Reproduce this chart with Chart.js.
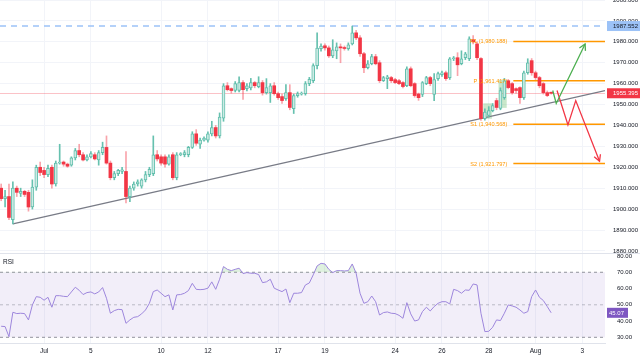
<!DOCTYPE html>
<html>
<head>
<meta charset="utf-8">
<script src="https://cdn.jsdelivr.net/npm/chart.js@4.4.0/dist/chart.umd.min.js"></script>
<style>
html, body { margin: 0; padding: 0; background: #fff; }
#wrap { position: relative; width: 640px; height: 358px; overflow: hidden; }
#pricebox { position: absolute; left: 0; top: 0; width: 640px; height: 253px; }
#sep { position: absolute; left: 0; top: 253px; width: 640px; height: 1px; background: #e0e3eb; }
#rsibox { position: absolute; left: 0; top: 254px; width: 640px; height: 104px; }
</style>
</head>
<body>
<div id="wrap">
  <div id="pricebox"><canvas id="priceChart"></canvas></div>
  <div id="sep"></div>
  <div id="rsibox"><canvas id="rsiChart"></canvas></div>
</div>
<script>
// 4h candles, index 0 = first bar on the left
var opens = [
  1910,1905,1906,1895,1910,1907.5,1908.5,1908,1901,1910.5,
  1920,1918.5,1916.5,1920,1912,1922,1922.5,1921.5,1921,1924.5,
  1928,1926,1923.5,1925,1926,1923.5,1927,1929.5,1922,1915,
  1917,1918,1918,1906,1910,1912,1911,1914,1916.5,1917,
  1926,1925,1925,1921.5,1926,1915,1926,1926,1926,1929.5,
  1936,1931,1933,1933,1936,1939,1935,1943.5,1959,1957.6,
  1956.7,1956.7,1960.5,1957.6,1958,1960.5,1958.6,1960.5,1955.7,1955.7,
  1959,1955.2,1953.8,1952.8,1955.7,1948,1954.3,1955,1955.2,1960,
  1961.4,1968.6,1976.7,1978.1,1977.1,1973.3,1975.7,1977.6,1977.2,1976.7,
  1979,1984.3,1981.9,1974.3,1967.6,1969.5,1972.9,1970,1961.4,1962.4,
  1962.9,1961.9,1961.4,1960.5,1959,1967.1,1960,1955,1954.8,1960,
  1962.9,1954.8,1962.4,1964.3,1965.2,1962.9,1971.9,1972.4,1969.5,1972.4,
  1971.9,1981,1979,1972,1943.3,1944.8,1947.1,1951.9,1948.1,1953.3,
  1961.4,1960,1957.6,1958.1,1953.3,1965.2,1971,1965.2,1962.9,1960,
  1955.7,1955.5
];
var highs = [
  1912,1909,1912,1913,1911,1910,1909,1909,1914,1921,
  1922.5,1920,1921,1921,1923,1931,1923,1922,1925,1929,
  1931,1927,1926,1927.5,1927,1928,1932,1935,1923,1918,
  1919,1920,1927.5,1911,1913,1914,1914.5,1918,1920,1935,
  1928,1926,1926,1926,1927,1927,1927,1928,1930,1937,
  1938,1934,1934.5,1937,1942,1940,1946,1960,1960.5,1958,
  1961,1963.3,1961.5,1960,1962.5,1961,1963.3,1961.5,1962.4,1960,
  1960.5,1956,1955,1959.5,1959.5,1955,1956,1956,1961,1963,
  1969.5,1984.3,1979,1979,1978,1981,1979.5,1979,1978,1979.5,
  1987.5,1985.5,1983,1975,1971,1974,1974,1971,1963.5,1964,
  1963.5,1962.5,1962,1961,1968,1968,1960.5,1955.5,1961,1963.5,
  1963.5,1964.8,1965.5,1966,1966,1972.5,1973,1974.8,1975.7,1975,
  1982.4,1983,1980,1972.5,1948,1949,1950.5,1953,1958,1962.5,
  1962,1960.5,1958,1958.5,1966,1971.9,1972,1966,1963.5,1960.5,
  1956.5,1956
];
var lows = [
  1904,1901,1895,1892.9,1906,1906,1906,1899,1900,1909,
  1916,1915,1915.5,1910,1911,1921.5,1920.5,1920,1920.5,1923.5,
  1925,1923,1923,1924.5,1923.5,1921,1926,1921.5,1914,1914,
  1916,1917,1903,1903.5,1909,1911,1910,1913,1915.5,1916,
  1923,1921,1920,1921,1914,1914,1925.5,1925,1925,1929,
  1930.5,1929,1932.5,1932,1935,1934,1934,1942,1956.5,1955.5,
  1956,1956,1952.4,1956.5,1957,1958,1958,1954.5,1955,1951,
  1954.5,1952.5,1950.5,1952,1947.5,1945.7,1953.5,1954.5,1954.5,1959,
  1960.5,1967,1975.5,1976,1972.5,1972.4,1971.9,1970,1976,1976,
  1978.5,1981,1973,1965.2,1967,1969,1969,1960.5,1961,1957.6,
  1960.5,1960,1959.5,1958,1958.5,1958.5,1953.5,1952,1953.8,1959.5,
  1959,1951.9,1961.5,1963.5,1961.5,1962,1971,1963.8,1969,1971.5,
  1971,1979,1971.5,1942.4,1942.5,1944,1946.5,1947.5,1947.5,1952.5,
  1957.5,1955,1955.5,1950.5,1952.5,1964.5,1964,1962,1958,1955,
  1953.8,1955
];
var closes = [
  1905,1906,1896,1910,1908,1908.5,1907,1901,1910.5,1920,
  1917.5,1916.5,1919.5,1912,1922,1922.5,1921.5,1920.5,1924.5,1928,
  1926,1923.5,1925,1926.5,1924,1927,1929.5,1922,1915,1917,
  1918.5,1918.8,1906,1910,1912,1913,1914,1916.5,1919,1926,
  1924,1922,1921.5,1925,1915,1926,1926.5,1927,1929.5,1936,
  1931.5,1933,1934,1936,1939,1935,1944,1959,1957.1,1956.7,
  1960,1960.5,1957.1,1959,1960.5,1959,1960.5,1955.7,1958.1,1959,
  1955.2,1953.3,1951.9,1955.7,1948.6,1954.3,1955.2,1955.5,1960,1962,
  1968.6,1977,1978,1977.1,1973.3,1976.2,1977.6,1977.1,1976.8,1978.6,
  1984.3,1981.9,1974.3,1967.6,1969.5,1972.9,1969.5,1961.4,1962.9,1963.3,
  1961.4,1960.5,1960,1958.6,1967.1,1959,1954.3,1953.3,1960.5,1962.9,
  1960,1961.9,1964.8,1965.2,1962.4,1971.9,1972.4,1969,1971.9,1974.3,
  1981.4,1980,1972.4,1943.3,1946.4,1947.1,1949.5,1948.6,1956.7,1961.4,
  1958.1,1955.7,1956.7,1953.3,1965.2,1970,1965.2,1962.9,1959,1955.7,
  1954.3,1955.395
];
var rsi = [
  36.8,36.6,30.4,45.4,44.6,44.8,44.6,40.7,49.9,55,
  54.6,52.8,54.6,48.5,55.6,55.6,55.2,55,57.9,60.8,
  58.9,56.3,57.5,57.9,56.7,57.9,60.6,54,44.8,46.4,
  47.2,47,38.6,40.7,42.3,42.7,44.4,46.8,50.9,58.1,
  59.1,57.1,55,56.1,46.8,56.1,56.3,57.1,58.7,63.2,
  59.5,59.3,59.5,60.2,64.1,59.5,65.7,73.5,71.8,71,
  71.8,72.5,69.2,69.8,69.4,69.4,68.6,63.6,64.1,65.7,
  60.2,59.1,58.1,59.7,51.3,57.1,57.1,57.5,62.2,63.4,
  68.4,73.9,75.5,75.1,71.8,69.8,71,71,70.8,71,
  75.1,69.4,57.1,50.9,51.9,55.4,51.9,43.7,45.2,45.6,
  44.8,44.6,43.5,41.7,51.3,44.4,40,40.7,45.8,48.5,
  46.2,48.9,50.9,51.9,51.9,50.5,59.5,58.7,57.1,59.1,
  58.9,62.8,62.2,44.8,33.5,33.7,36.2,40.7,40.3,44.8,
  49.9,49.3,48.5,46.8,44.8,45.8,55,59.1,54.6,52.6,
  48.9,45.07
];

// date ticks (bar index of first bar of the day)
var tickIdx = [11, 23, 41, 53, 71, 83, 101, 113, 125, 137, 149];
var tickText = ['Jul', '5', '10', '12', '17', '19', '24', '26', '28', 'Aug', '3'];
var priceTicks = [1880,1890,1900,1910,1920,1930,1940,1950,1960,1970,1980,1990,2000];
var rsiTicks = [30, 40, 50, 60, 70, 80];

// levels
var pivotNames = ['R1', 'P', 'S1', 'S2'];
var pivotValues = [1980.188, 1961.417, 1940.568, 1921.797];
var pivotStart = 131.3;
var lastPrice = 1955.395;
var topLevel = 1987.552;

// trend line and projected paths (bar index, price)
var trendX = [3, 154.8];
var trendY = [1892.9, 1956.7];
var upX = [141.4, 142.3, 149.7];
var upY = [1956.7, 1950.5, 1979];
var downX = [142.5, 145.3, 147.3, 153.4];
var downY = [1956.7, 1940.3, 1951.9, 1922.9];

// highlighted pattern boxes
var boxFrom = [123.6, 127.5];
var boxTo = [125.8, 129.6];
var boxLow = [1943.2, 1948.4];
var boxHigh = [1950.6, 1961.8];

var FONT = 'Liberation Sans, Arial, sans-serif';
var xMin = -0.3, xMax = 154.8;

function isUp(i) { return closes[i] >= opens[i]; }
function pts(xs, ys) { return xs.map(function (x, k) { return { x: x, y: ys[k] }; }); }
var idx = opens.map(function (_, i) { return i; });

function tag(chart, yPix, text, bg, fg, w) {
  var ctx = chart.ctx, a = chart.chartArea;
  ctx.save();
  ctx.fillStyle = bg;
  ctx.fillRect(a.right + 2, yPix - 5, w || (chart.width - a.right - 2), 10);
  ctx.fillStyle = fg;
  ctx.font = '6px ' + FONT;
  ctx.textAlign = 'left';
  ctx.textBaseline = 'middle';
  ctx.fillText(text, a.right + (w ? 4 : 8), yPix + 0.5);
  ctx.restore();
}

function arrowHead(ctx, xs, ys, sx, sy, color) {
  var n = xs.length;
  var x1 = sx.getPixelForValue(xs[n - 1]), y1 = sy.getPixelForValue(ys[n - 1]);
  var x0 = sx.getPixelForValue(xs[n - 2]), y0 = sy.getPixelForValue(ys[n - 2]);
  var ang = Math.atan2(y1 - y0, x1 - x0);
  ctx.save();
  ctx.strokeStyle = color;
  ctx.lineWidth = 1.3;
  ctx.beginPath();
  ctx.moveTo(x1 - 7 * Math.cos(ang - 0.5), y1 - 7 * Math.sin(ang - 0.5));
  ctx.lineTo(x1, y1);
  ctx.lineTo(x1 - 7 * Math.cos(ang + 0.5), y1 - 7 * Math.sin(ang + 0.5));
  ctx.stroke();
  ctx.restore();
}

var priceDecor = {
  id: 'priceDecor',
  beforeDatasetsDraw: function (chart) {
    var ctx = chart.ctx, a = chart.chartArea, x = chart.scales.x, y = chart.scales.y;
    ctx.save();
    // pattern boxes
    ctx.fillStyle = 'rgba(76,175,80,0.3)';
    boxFrom.forEach(function (b, k) {
      var x0 = x.getPixelForValue(b), x1 = x.getPixelForValue(boxTo[k]);
      var y0 = y.getPixelForValue(boxHigh[k]), y1 = y.getPixelForValue(boxLow[k]);
      ctx.fillRect(x0, y0, x1 - x0, y1 - y0);
    });
    // top dashed level
    var yt = y.getPixelForValue(topLevel);
    ctx.strokeStyle = '#9cc2f7';
    ctx.lineWidth = 1.5;
    ctx.setLineDash([6, 5]);
    ctx.beginPath(); ctx.moveTo(a.left, yt); ctx.lineTo(a.right, yt); ctx.stroke();
    ctx.setLineDash([]);
    // last price line
    var yl = Math.round(y.getPixelForValue(lastPrice)) + 0.5;
    ctx.strokeStyle = 'rgba(242,54,69,0.3)';
    ctx.lineWidth = 1;
    ctx.beginPath(); ctx.moveTo(a.left, yl); ctx.lineTo(a.right, yl); ctx.stroke();
    // pivot lines
    var xs = x.getPixelForValue(pivotStart);
    ctx.strokeStyle = '#ff9800';
    ctx.lineWidth = 1.5;
    pivotValues.forEach(function (v) {
      var yp = y.getPixelForValue(v);
      ctx.beginPath(); ctx.moveTo(xs, yp); ctx.lineTo(a.right, yp); ctx.stroke();
    });
    ctx.restore();
  },
  afterDatasetsDraw: function (chart) {
    var ctx = chart.ctx, x = chart.scales.x, y = chart.scales.y;
    ctx.save();
    ctx.fillStyle = '#ff9800';
    ctx.font = '5.6px ' + FONT;
    ctx.textAlign = 'right';
    ctx.textBaseline = 'middle';
    var xs = x.getPixelForValue(pivotStart) - 6;
    pivotValues.forEach(function (v, k) {
      var txt = pivotNames[k] + ' (' + v.toLocaleString('en-US', { minimumFractionDigits: 3 }) + ')';
      ctx.fillText(txt, xs, y.getPixelForValue(v) + 0.5);
    });
    ctx.restore();
    arrowHead(ctx, upX, upY, x, y, '#4caf50');
    arrowHead(ctx, downX, downY, x, y, '#f23645');
  },
  afterDraw: function (chart) {
    var y = chart.scales.y;
    tag(chart, y.getPixelForValue(topLevel), topLevel.toFixed(3), '#9cc2f7', '#131722');
    tag(chart, y.getPixelForValue(lastPrice), lastPrice.toFixed(3), '#f23645', '#ffffff');
  }
};

var rsiDecor = {
  id: 'rsiDecor',
  beforeDatasetsDraw: function (chart) {
    var ctx = chart.ctx, a = chart.chartArea, y = chart.scales.y;
    var y70 = y.getPixelForValue(70), y50 = y.getPixelForValue(50), y30 = y.getPixelForValue(30);
    ctx.save();
    ctx.fillStyle = 'rgba(126,87,194,0.1)';
    ctx.fillRect(a.left, y70, a.right - a.left, y30 - y70);
    ctx.lineWidth = 1;
    ctx.setLineDash([3, 3]);
    ctx.strokeStyle = 'rgba(120,123,134,0.8)';
    [y70, y30].forEach(function (yy) {
      ctx.beginPath(); ctx.moveTo(a.left, yy); ctx.lineTo(a.right, yy); ctx.stroke();
    });
    ctx.strokeStyle = 'rgba(120,123,134,0.45)';
    ctx.beginPath(); ctx.moveTo(a.left, y50); ctx.lineTo(a.right, y50); ctx.stroke();
    ctx.setLineDash([]);
    ctx.fillStyle = '#131722';
    ctx.font = '6.5px ' + FONT;
    ctx.textBaseline = 'middle';
    ctx.fillText('RSI', 3, 8);
    ctx.restore();
  },
  afterDraw: function (chart) {
    var last = rsi[rsi.length - 1];
    tag(chart, chart.scales.y.getPixelForValue(last), last.toFixed(2), '#7e57c2', '#ffffff', 21);
  }
};

function dateAxis(showLabels) {
  return {
    type: 'linear',
    min: xMin,
    max: xMax,
    offset: false,
    grid: { offset: false, color: '#f2f4f9', drawTicks: false },
    border: { display: showLabels, color: '#e0e3eb' },
    ticks: {
      display: showLabels,
      autoSkip: false,
      maxRotation: 0,
      padding: 4,
      color: '#131722',
      font: { size: 6.5, family: FONT },
      callback: function (v) { return tickText[tickIdx.indexOf(v)]; }
    },
    afterBuildTicks: function (s) { s.ticks = tickIdx.map(function (v) { return { value: v }; }); },
    afterFit: function (s) { s.height = showLabels ? 15 : 0; s.paddingLeft = 0; s.paddingRight = 0; }
  };
}

Chart.defaults.font.family = FONT;

new Chart(document.getElementById('priceChart'), {
  type: 'bar',
  data: {
    datasets: [
      {
        type: 'line', data: pts(trendX, trendY), borderColor: '#787b86',
        borderWidth: 1.3, pointRadius: 0, order: 5
      },
      {
        data: idx.map(function (i) { return { x: i, y: [lows[i], highs[i]] }; }),
        backgroundColor: function (c) { return isUp(c.dataIndex) ? '#66c1af' : 'rgba(242,54,69,0.45)'; },
        barThickness: 1, grouped: false, order: 3
      },
      {
        data: idx.map(function (i) { return { x: i, y: [opens[i], closes[i]] }; }),
        backgroundColor: function (c) { return isUp(c.dataIndex) ? '#cdebe4' : '#f23645'; },
        borderColor: function (c) { return isUp(c.dataIndex) ? '#62bfad' : '#f23645'; },
        borderWidth: function (c) { return isUp(c.dataIndex) ? 1 : 0; },
        borderSkipped: false, barThickness: 3, minBarLength: 1, grouped: false, order: 2
      },
      {
        type: 'line', data: pts(upX, upY), borderColor: '#4caf50',
        borderWidth: 1.3, pointRadius: 0, order: 1
      },
      {
        type: 'line', data: pts(downX, downY), borderColor: '#f23645',
        borderWidth: 1.3, pointRadius: 0, order: 1
      }
    ]
  },
  options: {
    responsive: true,
    maintainAspectRatio: false,
    animation: false,
    events: [],
    layout: { padding: 0 },
    plugins: { legend: { display: false }, tooltip: { enabled: false } },
    scales: {
      x: dateAxis(false),
      y: {
        position: 'right',
        min: 1879,
        max: 2000,
        grid: { color: '#f2f4f9', drawTicks: false },
        border: { display: false },
        ticks: {
          padding: 8, color: '#131722', font: { size: 6, family: FONT },
          callback: function (v) { return v.toFixed(3); }
        },
        afterBuildTicks: function (s) { s.ticks = priceTicks.map(function (v) { return { value: v }; }); },
        afterFit: function (s) { s.width = 35; s.paddingTop = 0; s.paddingBottom = 0; }
      }
    }
  },
  plugins: [priceDecor]
});

new Chart(document.getElementById('rsiChart'), {
  type: 'line',
  data: {
    datasets: [{
      data: pts(idx, rsi),
      borderColor: '#9d86dc',
      borderWidth: 1,
      pointRadius: 0,
      fill: { target: { value: 70 }, above: 'rgba(76,175,80,0.18)', below: 'rgba(0,0,0,0)' }
    }]
  },
  options: {
    responsive: true,
    maintainAspectRatio: false,
    animation: false,
    events: [],
    layout: { padding: 0 },
    plugins: { legend: { display: false }, tooltip: { enabled: false } },
    scales: {
      x: dateAxis(true),
      y: {
        position: 'right',
        min: 26.5,
        max: 81.23,
        grid: { display: false },
        border: { display: false },
        ticks: {
          padding: 4, color: '#131722', font: { size: 6, family: FONT },
          callback: function (v) { return v.toFixed(2); }
        },
        afterBuildTicks: function (s) { s.ticks = rsiTicks.map(function (v) { return { value: v }; }); },
        afterFit: function (s) { s.width = 35; s.paddingTop = 0; s.paddingBottom = 0; }
      }
    }
  },
  plugins: [rsiDecor]
});
</script>
</body>
</html>
